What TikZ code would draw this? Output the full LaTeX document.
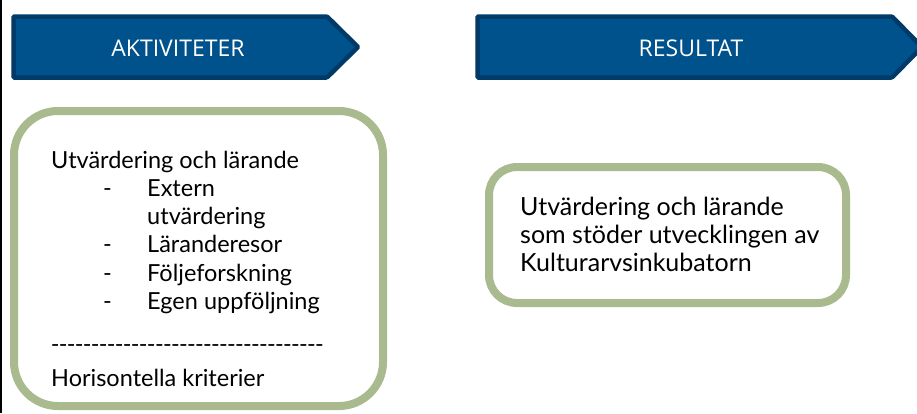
\documentclass[tikz,border=0pt]{standalone}
\usepackage{fontspec}
\setmainfont{Lato}[Ligatures=TeXOff]
\newfontfamily\headfont{Open Sans}
\definecolor{bannerfill}{RGB}{0,82,140}
\definecolor{bannerline}{RGB}{0,58,104}
\definecolor{framegreen}{RGB}{168,186,142}
% one hyphen of the separator line, on a fixed pitch
\newcommand\sephy{\makebox[8pt]{-}}
\begin{document}
\begin{tikzpicture}[x=1pt,y=-1pt,
  banner/.style={fill=bannerfill,draw=bannerline,line width=4.5pt,line join=miter,rounded corners=1pt},
  bannertext/.style={text=white,font=\headfont\fontsize{23}{26}\selectfont,inner sep=0pt},
  frame/.style={draw=framegreen,fill=white,line width=8pt},
  body/.style={anchor=base west,inner sep=0pt,font=\fontsize{23.5}{27}\selectfont},
  bodyr/.style={body,font=\fontsize{25}{28}\selectfont}]
  \useasboundingbox (0,0) rectangle (917,413);
  \fill[white] (0,0) rectangle (917,413);
  % left rule
  \draw[black,line width=2pt] (1,0) -- (1,413);

  % header chevrons
  \draw[banner] (13.5,16.5) -- (327,16.5) -- (358,47) -- (327,77.5) -- (13.5,77.5) -- cycle;
  \node[bannertext] (akt) at (178,48) {AKTIVITETER};
  \draw[banner] (477.5,16.5) -- (892,16.5) -- (922,47) -- (892,77.5) -- (477.5,77.5) -- cycle;
  \node[bannertext] (res) at (691,48) {RESULTAT};

  % activity box
  \draw[frame,rounded corners=44pt] (14,111) rectangle (383,406);
  \node[body] (a0) at (51,168) {Utvärdering och lärande};
  \node[body] (d1) at (103,196) {-};
  \node[body] (a1) at (147,196) {Extern};
  \node[body] (a1b) at (147,224) {utvärdering};
  \node[body] (d2) at (103,252) {-};
  \node[body] (a2) at (147,252) {Läranderesor};
  \node[body] (d3) at (103,281) {-};
  \node[body] (a3) at (147,281) {Följeforskning};
  \node[body] (d4) at (103,309) {-};
  \node[body] (a4) at (147,309) {Egen uppföljning};
  \node[body] (sep) at (51,352) {\sephy\sephy\sephy\sephy\sephy\sephy\sephy\sephy\sephy\sephy\sephy\sephy\sephy\sephy\sephy\sephy\sephy\sephy\sephy\sephy\sephy\sephy\sephy\sephy\sephy\sephy\sephy\sephy\sephy\sephy\sephy\sephy\sephy\sephy};
  \node[body] (hk) at (51,386) {Horisontella kriterier};

  % result box
  \draw[frame,rounded corners=28pt] (489,167) rectangle (846,303);
  \node[bodyr] (r1) at (520,215) {Utvärdering och lärande};
  \node[bodyr] (r2) at (520,243) {som stöder utvecklingen av};
  \node[bodyr] (r3) at (520,271) {Kulturarvsinkubatorn};
\end{tikzpicture}
\end{document}
